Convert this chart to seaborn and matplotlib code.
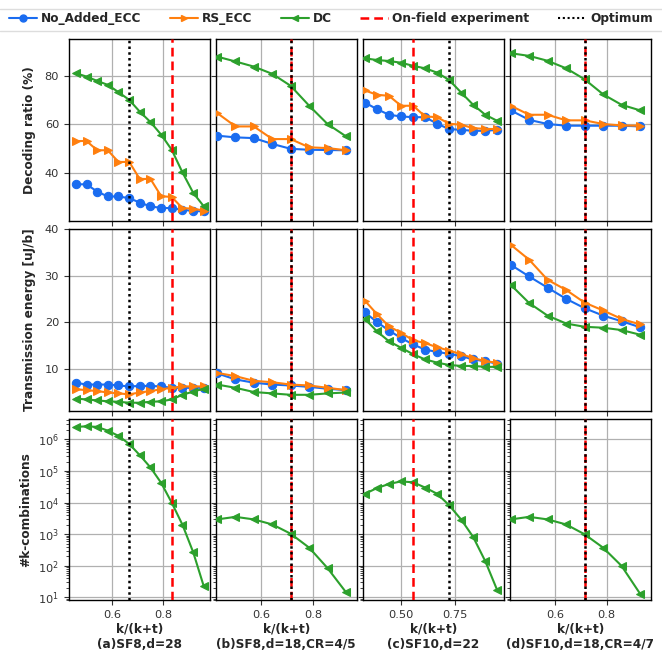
import matplotlib
matplotlib.use("Agg")
import matplotlib.pyplot as plt
import seaborn as sns
from matplotlib.lines import Line2D

sns.set_style("ticks")
plt.rcParams['font.family'] = ['DejaVu Sans']

# x values k/(k+t) per scenario
x_a = [0.458, 0.500, 0.542, 0.583, 0.625, 0.667, 0.708, 0.750, 0.792, 0.833, 0.875, 0.917, 0.958]
x_b = [0.429, 0.500, 0.571, 0.643, 0.714, 0.786, 0.857, 0.929]
x_c = [0.333, 0.389, 0.444, 0.500, 0.556, 0.611, 0.667, 0.722, 0.778, 0.833, 0.889, 0.944]
x_d = [0.429, 0.500, 0.571, 0.643, 0.714, 0.786, 0.857, 0.929]

# decoding ratio (%)
dr_none_a = [35.3, 35.3, 32.3, 30.3, 30.3, 29.6, 27.8, 26.2, 25.6, 25.5, 24.9, 24.3, 24.2]
dr_rs_a = [53.1, 53.1, 49.3, 49.3, 44.5, 44.5, 37.5, 37.5, 30.4, 30.1, 25.5, 25.3, 24.5]
dr_dc_a = [81.0, 79.6, 77.8, 76.2, 73.2, 70.0, 65.2, 60.9, 55.7, 49.5, 40.2, 31.8, 26.3]
dr_none_b = [55.3, 54.6, 54.3, 51.9, 49.9, 49.5, 49.4, 49.3]
dr_rs_b = [64.6, 59.1, 59.1, 53.9, 53.9, 50.5, 50.2, 49.3]
dr_dc_b = [87.8, 85.8, 83.7, 80.7, 75.8, 67.6, 60.1, 55.0]
dr_none_c = [68.9, 66.2, 63.9, 63.2, 62.9, 62.9, 60.2, 58.0, 57.7, 57.3, 57.3, 57.7]
dr_rs_c = [73.9, 72.1, 71.7, 67.6, 67.6, 63.2, 62.9, 60.2, 59.8, 58.4, 58.1, 58.0]
dr_dc_c = [87.1, 86.4, 86.0, 85.3, 84.0, 83.0, 81.2, 78.2, 73.0, 68.0, 63.9, 61.4]
dr_none_d = [65.7, 61.8, 60.1, 59.4, 59.4, 59.4, 59.4, 59.1]
dr_rs_d = [67.6, 63.9, 63.9, 61.6, 61.6, 60.1, 59.5, 59.4]
dr_dc_d = [89.2, 88.1, 86.1, 83.0, 78.5, 72.3, 68.0, 65.7]

# transmission energy [uJ/b]
te_none_a = [7.0, 6.6, 6.6, 6.6, 6.4, 6.2, 6.3, 6.3, 6.2, 5.9, 5.9, 5.9, 5.9]
te_rs_a = [5.6, 5.4, 5.2, 4.9, 4.7, 4.5, 4.9, 5.2, 5.6, 5.9, 6.2, 6.2, 6.2]
te_dc_a = [3.6, 3.4, 3.2, 3.0, 2.9, 2.7, 2.7, 2.9, 3.0, 3.4, 4.4, 5.1, 5.7]
te_none_b = [9.0, 7.7, 7.0, 6.6, 6.4, 6.1, 5.7, 5.4]
te_rs_b = [9.1, 8.4, 7.4, 7.1, 6.6, 6.4, 5.9, 5.4]
te_dc_b = [6.6, 5.9, 5.0, 4.7, 4.4, 4.4, 4.7, 4.9]
te_none_c = [22.1, 20.0, 18.2, 16.6, 15.2, 14.1, 13.6, 13.2, 12.7, 12.0, 11.6, 11.1]
te_rs_c = [24.6, 21.7, 19.1, 17.7, 16.1, 15.5, 14.6, 13.9, 13.1, 12.3, 11.6, 11.3]
te_dc_c = [20.7, 18.0, 15.9, 14.5, 13.1, 12.0, 11.3, 10.8, 10.6, 10.6, 10.4, 10.4]
te_none_d = [32.3, 29.8, 27.4, 25.0, 23.0, 21.4, 20.2, 18.9]
te_rs_d = [36.6, 33.4, 29.1, 26.9, 24.2, 22.5, 20.7, 19.5]
te_dc_d = [28.0, 24.1, 21.4, 19.7, 19.0, 18.8, 18.3, 17.3]

# number of k-combinations (DC only)
kc_a = [2.5e6, 2.6e6, 2.5e6, 1.9e6, 1.3e6, 7.2e5, 3.2e5, 1.3e5, 4.2e4, 1.0e4, 2.0e3, 270, 23]
kc_b = [2950, 3550, 2950, 2040, 1040, 375, 85, 14.5]
kc_c = [1.9e4, 2.9e4, 3.9e4, 4.7e4, 4.4e4, 3.0e4, 1.9e4, 8.3e3, 2.9e3, 820, 140, 17]
kc_d = [2950, 3550, 2950, 2040, 1000, 375, 100, 13]

optimum = [0.667, 0.714, 0.722, 0.714]
onfield = [0.833, 0.714, 0.556, 0.714]
titles = ["(a)SF8,d=28", "(b)SF8,d=18,CR=4/5", "(c)SF10,d=22", "(d)SF10,d=18,CR=4/7"]
xticks = [[0.6, 0.8], [0.6, 0.8], [0.50, 0.75], [0.6, 0.8]]
xlims = [(0.431, 0.981), (0.424, 0.970), (0.324, 0.974), (0.426, 0.970)]

xs = [x_a, x_b, x_c, x_d]
dr = [(dr_none_a, dr_rs_a, dr_dc_a), (dr_none_b, dr_rs_b, dr_dc_b),
      (dr_none_c, dr_rs_c, dr_dc_c), (dr_none_d, dr_rs_d, dr_dc_d)]
te = [(te_none_a, te_rs_a, te_dc_a), (te_none_b, te_rs_b, te_dc_b),
      (te_none_c, te_rs_c, te_dc_c), (te_none_d, te_rs_d, te_dc_d)]
kc = [kc_a, kc_b, kc_c, kc_d]

methods = ["No_Added_ECC", "RS_ECC", "DC"]
colors = ["#1a6cf0", "#ff7f0e", "#2ca02c"]
markers = ["o", ">", "<"]

fig, axes = plt.subplots(3, 4, figsize=(6.62, 6.52), dpi=100, sharex='col', sharey='row')
fig.subplots_adjust(left=0.104, right=0.983, top=0.94, bottom=0.079, wspace=0.045, hspace=0.045)


def draw(ax, x, y, i):
    sns.lineplot(x=x, y=y, ax=ax, color=colors[i], marker=markers[i], markersize=6,
                 markeredgecolor=colors[i], linewidth=1.5, zorder=3)


for c in range(4):
    for r in range(3):
        ax = axes[r, c]
        if r == 0:
            for i in range(3):
                draw(ax, xs[c], dr[c][i], i)
        elif r == 1:
            for i in range(3):
                draw(ax, xs[c], te[c][i], i)
        else:
            draw(ax, xs[c], kc[c], 2)
        ax.axvline(onfield[c], color="red", linestyle=(0, (3.5, 2)), linewidth=1.8, zorder=4)
        ax.axvline(optimum[c], color="black", linestyle=(0, (1, 1.3)), linewidth=1.8, zorder=4)
        ax.grid(True, color="#b0b0b0", linewidth=0.9)
        ax.set_axisbelow(True)
        for s in ax.spines.values():
            s.set_color("black")
            s.set_linewidth(1.0)
        ax.tick_params(labelsize=8.2, colors="#333333", length=3.5, width=0.8)
        ax.set_xlim(*xlims[c])
        ax.set_xticks(xticks[c])
        ax.set_xlabel("")
    axes[2, c].set_xlabel("k/(k+t)\n" + titles[c], fontsize=8.7, fontweight="bold", labelpad=2)
    if c == 2:
        axes[2, c].set_xticklabels(["0.50", "0.75"])

axes[0, 0].set_ylim(20.3, 95)
axes[0, 0].set_yticks([40, 60, 80])
axes[1, 0].set_ylim(1, 40)
axes[1, 0].set_yticks([10, 20, 30, 40])
axes[2, 0].set_yscale("log")
axes[2, 0].set_ylim(8, 4.5e6)
axes[2, 0].set_yticks([1e1, 1e2, 1e3, 1e4, 1e5, 1e6])

axes[0, 0].set_ylabel("Decoding ratio (%)", fontsize=8.7, fontweight="bold", labelpad=6)
axes[1, 0].set_ylabel("Transmission energy [uJ/b]", fontsize=8.7, fontweight="bold", labelpad=6)
axes[2, 0].set_ylabel("#k-combinations", fontsize=8.7, fontweight="bold", labelpad=4)

handles = [Line2D([], [], color=colors[i], marker=markers[i], markersize=5, linewidth=1.5)
           for i in range(3)]
handles.append(Line2D([], [], color="red", linestyle=(0, (3.5, 2)), linewidth=1.8))
handles.append(Line2D([], [], color="black", linestyle=(0, (1, 1.3)), linewidth=1.5))
labels = methods + ["On-field experiment", "Optimum"]
leg = fig.legend(handles, labels, loc="center", bbox_to_anchor=(0.5, 0.972), ncol=5,
                 frameon=False, prop={"size": 8.7, "weight": "bold"}, handlelength=2.3,
                 handletextpad=0.35, columnspacing=2.35, borderaxespad=0, borderpad=0)
for yy in [1 - 8.5 / 652, 1 - 30.5 / 652]:
    fig.add_artist(Line2D([0, 1], [yy, yy], transform=fig.transFigure, color="#dddddd", linewidth=1))

fig.savefig("out.png", dpi=100)
